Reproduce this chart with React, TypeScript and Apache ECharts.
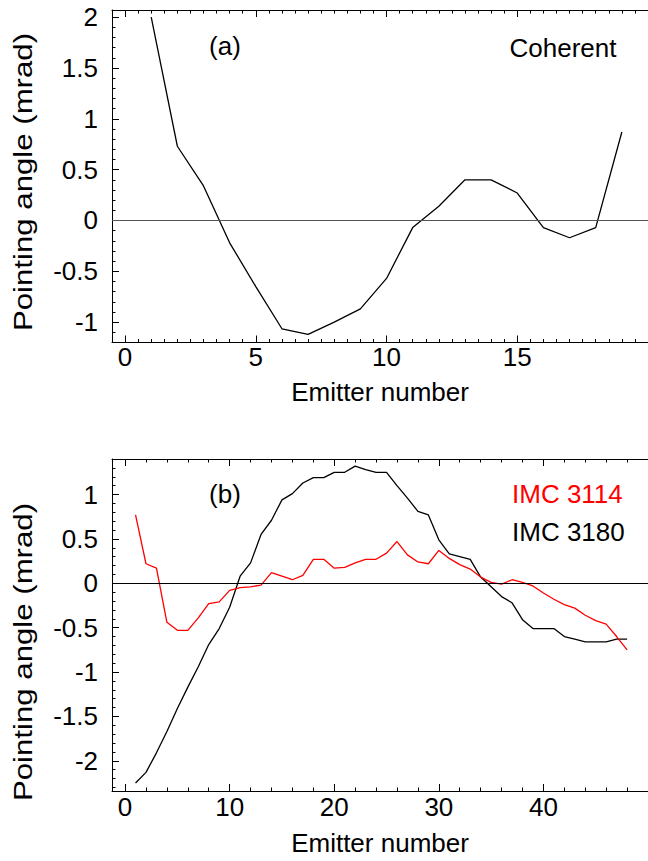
import React, { useEffect, useRef } from "react";
import * as echarts from "echarts";

// Panel (a): coherent array, emitters 1–19
const coherentEmitters = [1, 2, 3, 4, 5, 6, 7, 8, 9, 10, 11, 12, 13, 14, 15, 16, 17, 18, 19];
const coherentAngle = [
  2.0, 0.73, 0.34, -0.22, -0.65, -1.065, -1.12, -1.0, -0.87, -0.57,
  -0.07, 0.14, 0.4, 0.4, 0.27, -0.07, -0.17, -0.07, 0.87,
];

// Panel (b): two bars, emitters 1–48
const barEmitters = [
  1, 2, 3, 4, 5, 6, 7, 8, 9, 10, 11, 12, 13, 14, 15, 16, 17, 18, 19, 20, 21, 22, 23, 24,
  25, 26, 27, 28, 29, 30, 31, 32, 33, 34, 35, 36, 37, 38, 39, 40, 41, 42, 43, 44, 45, 46, 47, 48,
];
const imc3114 = [
  0.77, 0.22, 0.17, -0.44, -0.53, -0.53, -0.39, -0.23, -0.21, -0.08, -0.05, -0.04,
  -0.02, 0.12, 0.08, 0.04, 0.09, 0.27, 0.27, 0.17, 0.18, 0.23, 0.27, 0.27,
  0.34, 0.47, 0.32, 0.24, 0.22, 0.37, 0.28, 0.21, 0.16, 0.07, 0.01, -0.01,
  0.04, 0.01, -0.03, -0.11, -0.18, -0.24, -0.28, -0.36, -0.42, -0.46, -0.6, -0.75,
];
const imc3180 = [
  -2.25, -2.13, -1.91, -1.67, -1.41, -1.17, -0.94, -0.69, -0.51, -0.27, 0.08, 0.23,
  0.55, 0.71, 0.94, 1.01, 1.13, 1.19, 1.19, 1.25, 1.25, 1.32, 1.28, 1.25,
  1.25, 1.1, 0.96, 0.81, 0.77, 0.49, 0.33, 0.3, 0.27, 0.07, -0.04, -0.15,
  -0.22, -0.41, -0.51, -0.51, -0.51, -0.6, -0.63, -0.66, -0.66, -0.66, -0.63, -0.63,
];

// Tick positions and labels
const xTicksA = [0, 5, 10, 15, 20];
const xLabelsA = [0, 5, 10, 15];
const yTicksA = [-1, -0.5, 0, 0.5, 1, 1.5, 2];
const xTicksB = [0, 10, 20, 30, 40, 50];
const xLabelsB = [0, 10, 20, 30, 40];
const yTicksB = [-2, -1.5, -1, -0.5, 0, 0.5, 1];

const FONT = "'Liberation Sans', Arial, Helvetica, sans-serif";
const INK = "#000";

const steps = (from: number, to: number, step: number) => {
  const out: number[] = [];
  const n = Math.round((to - from) / step);
  for (let i = 0; i <= n; i++) out.push(+(from + i * step).toFixed(4));
  return out;
};

const pairs = (xs: number[], ys: number[]) => xs.map((x, i) => [x, ys[i]]);

type AxisOpts = {
  gridIndex: number;
  min: number;
  max: number;
  position: string;
  ticks: number[];
  tickLen: number;
  line?: boolean;
  labels?: number[];
  labelMargin?: number;
  name?: string;
  nameGap?: number;
};

const axis = (o: AxisOpts) => ({
  type: "value",
  gridIndex: o.gridIndex,
  min: o.min,
  max: o.max,
  position: o.position,
  axisLine: { show: !!o.line, onZero: false, lineStyle: { color: INK, width: 1 } },
  axisTick: {
    show: true,
    inside: true,
    length: o.tickLen,
    customValues: o.ticks,
    lineStyle: { color: INK, width: 1 },
  },
  axisLabel: o.labels
    ? {
        show: true,
        customValues: o.labels,
        margin: o.labelMargin ?? 4,
        fontSize: 26,
        fontFamily: FONT,
        color: INK,
      }
    : { show: false },
  splitLine: { show: false },
  name: o.name,
  nameLocation: "middle",
  nameGap: o.nameGap,
  nameTextStyle: { fontSize: 26, fontFamily: FONT, color: INK },
});

export default function App() {
  const ref = useRef<HTMLDivElement>(null);

  useEffect(() => {
    if (!ref.current) return;
    const chart = echarts.init(ref.current, null, { renderer: "svg" });

    const A = { xmin: -0.5, xmax: 20, ymin: -1.2, ymax: 2.07 };
    const B = { xmin: -1.25, xmax: 50, ymin: -2.34, ymax: 1.4 };

    const xAxis = [
      // panel (a)
      axis({ gridIndex: 0, min: A.xmin, max: A.xmax, position: "bottom", ticks: xTicksA, tickLen: 7, line: true, labels: xLabelsA, labelMargin: 1, name: "Emitter number", nameGap: 36 }),
      axis({ gridIndex: 0, min: A.xmin, max: A.xmax, position: "bottom", ticks: steps(0, 20, 0.5), tickLen: 3.5 }),
      axis({ gridIndex: 0, min: A.xmin, max: A.xmax, position: "top", ticks: xTicksA, tickLen: 7, line: true }),
      axis({ gridIndex: 0, min: A.xmin, max: A.xmax, position: "top", ticks: steps(0, 20, 0.5), tickLen: 3.5 }),
      // panel (b)
      axis({ gridIndex: 1, min: B.xmin, max: B.xmax, position: "bottom", ticks: xTicksB, tickLen: 7, line: true, labels: xLabelsB, labelMargin: 3, name: "Emitter number", nameGap: 39 }),
      axis({ gridIndex: 1, min: B.xmin, max: B.xmax, position: "bottom", ticks: steps(0, 50, 2), tickLen: 3.5 }),
      axis({ gridIndex: 1, min: B.xmin, max: B.xmax, position: "top", ticks: xTicksB, tickLen: 7, line: true }),
      axis({ gridIndex: 1, min: B.xmin, max: B.xmax, position: "top", ticks: steps(0, 50, 2), tickLen: 3.5 }),
    ];

    const yAxis = [
      axis({ gridIndex: 0, min: A.ymin, max: A.ymax, position: "left", ticks: yTicksA, tickLen: 7, line: true, labels: yTicksA, labelMargin: 14 }),
      axis({ gridIndex: 0, min: A.ymin, max: A.ymax, position: "left", ticks: steps(-1.2, 2.0, 0.1), tickLen: 3.5 }),
      axis({ gridIndex: 1, min: B.ymin, max: B.ymax, position: "left", ticks: yTicksB, tickLen: 7, line: true, labels: yTicksB, labelMargin: 14 }),
      axis({ gridIndex: 1, min: B.ymin, max: B.ymax, position: "left", ticks: steps(-2.3, 1.4, 0.1), tickLen: 3.5 }),
    ];

    const zeroLine = (color: string) => ({
      silent: true,
      symbol: ["none", "none"],
      label: { show: false },
      lineStyle: { color, width: 1, type: "solid" },
      data: [{ yAxis: 0 }],
    });

    const textStyle = (text: string, fill: string, align: string) => ({
      text,
      fill,
      fontSize: 26,
      fontFamily: FONT,
      align,
      verticalAlign: "middle",
    });

    chart.setOption({
      animation: false,
      backgroundColor: "#fff",
      grid: [
        { left: 112, top: 10, width: 557, height: 332.5 },
        { left: 112, top: 459, width: 552, height: 332 },
      ],
      xAxis,
      yAxis,
      series: [
        {
          name: "Coherent",
          type: "line",
          xAxisIndex: 0,
          yAxisIndex: 0,
          data: pairs(coherentEmitters, coherentAngle),
          showSymbol: false,
          lineStyle: { color: INK, width: 1.3 },
          markLine: zeroLine("#555"),
        },
        {
          name: "IMC 3180",
          type: "line",
          xAxisIndex: 4,
          yAxisIndex: 2,
          data: pairs(barEmitters, imc3180),
          showSymbol: false,
          lineStyle: { color: INK, width: 1.3 },
          markLine: zeroLine(INK),
        },
        {
          name: "IMC 3114",
          type: "line",
          xAxisIndex: 4,
          yAxisIndex: 2,
          data: pairs(barEmitters, imc3114),
          showSymbol: false,
          lineStyle: { color: "#ff0000", width: 1.3 },
        },
      ],
      graphic: [
        { type: "text", x: 225, y: 46, style: textStyle("(a)", INK, "center") },
        { type: "text", x: 509.5, y: 48, style: textStyle("Coherent", INK, "left") },
        { type: "text", x: 225, y: 494, style: textStyle("(b)", INK, "center") },
        { type: "text", x: 512, y: 494, style: textStyle("IMC 3114", "#ff0000", "left") },
        { type: "text", x: 512, y: 532, style: textStyle("IMC 3180", INK, "left") },
        {
          type: "text",
          x: 23,
          y: 182,
          rotation: Math.PI / 2,
          scaleX: 1.2,
          style: textStyle("Pointing angle (mrad)", INK, "center"),
        },
        {
          type: "text",
          x: 23,
          y: 652,
          rotation: Math.PI / 2,
          scaleX: 1.2,
          style: textStyle("Pointing angle (mrad)", INK, "center"),
        },
      ],
    });

    return () => chart.dispose();
  }, []);

  return (
    <div
      ref={ref}
      style={{ position: "absolute", left: 0, top: 0, width: 648, height: 861 }}
    />
  );
}
